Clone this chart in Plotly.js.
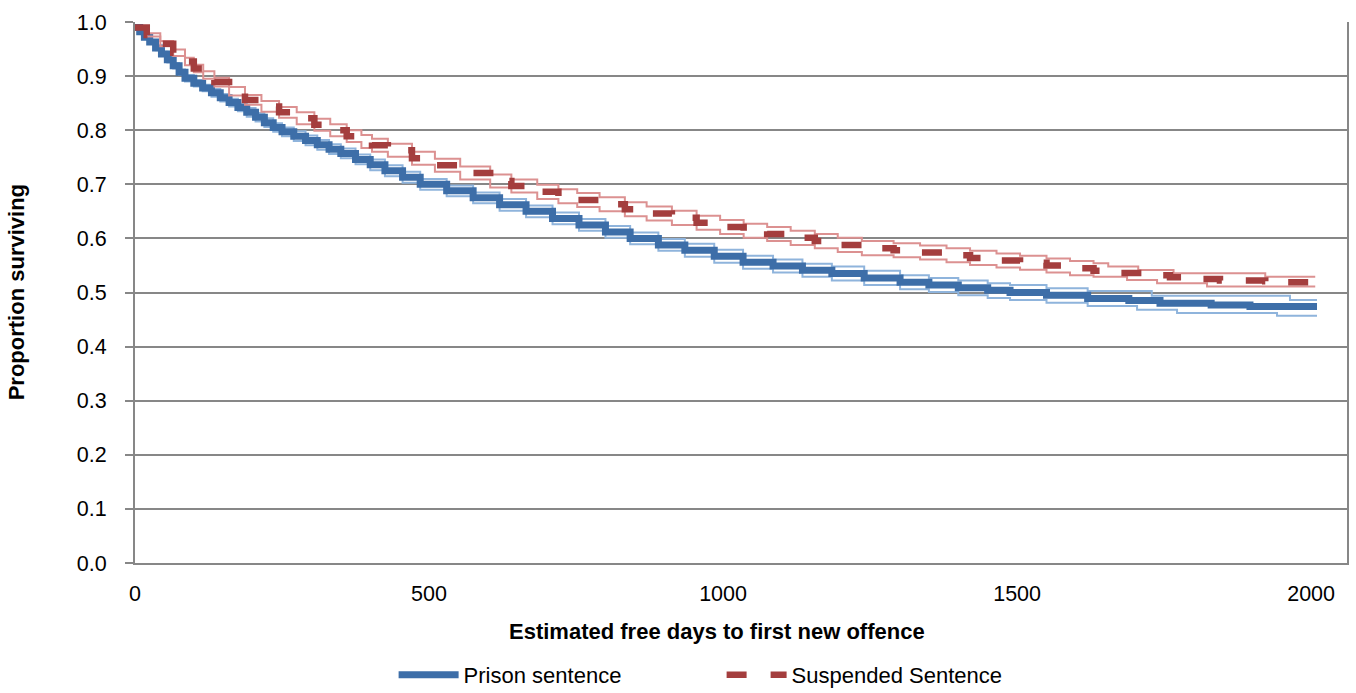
<!DOCTYPE html>
<html><head><meta charset="utf-8">
<script src="https://cdn.plot.ly/plotly-3.0.1.min.js"></script>
<style>html,body{margin:0;padding:0;background:#fff}#chart{width:1356px;height:693px}</style>
</head><body><div id="chart"></div>
<script>
// Prison sentence (Kaplan-Meier estimate)
const prisonDays = [0,8,16,25,35,45,55,65,75,85,100,115,130,145,160,175,190,205,220,235,250,270,290,310,330,350,375,400,425,455,485,530,575,620,665,710,755,800,842,890,935,985,1034,1085,1135,1185,1240,1301,1350,1400,1450,1488,1550,1620,1690,1743,1830,1896,2010];
const prisonSurv = [.99,.982,.972,.963,.952,.941,.930,.919,.907,.896,.887,.878,.869,.860,.851,.842,.833,.824,.814,.805,.797,.789,.781,.773,.765,.757,.746,.736,.725,.713,.700,.688,.675,.662,.650,.637,.625,.612,.600,.588,.578,.567,.556,.549,.541,.535,.527,.519,.514,.509,.504,.500,.495,.489,.485,.480,.477,.474,.474];
const prisonUpperDays = [0,8,16,25,35,45,55,65,75,85,100,115,130,145,160,175,190,205,220,235,250,270,290,310,330,350,375,400,425,455,485,530,575,620,665,710,755,800,842,890,935,985,1034,1085,1135,1185,1240,1301,1350,1400,1450,1488,1550,1620,1690,1729,1964,2010];
const prisonUpper = [.991,.984,.975,.966,.956,.945,.935,.924,.912,.902,.893,.884,.876,.867,.858,.849,.841,.832,.822,.813,.805,.798,.790,.782,.774,.766,.755,.746,.735,.723,.710,.698,.685,.673,.661,.648,.636,.623,.611,.599,.590,.579,.568,.561,.553,.548,.540,.532,.527,.522,.517,.514,.508,.503,.503,.494,.486,.486];
const prisonLowerDays = [0,8,16,25,35,45,55,65,75,85,100,115,130,145,160,175,190,205,220,235,250,270,290,310,330,350,375,400,425,455,485,530,575,620,665,710,755,800,842,890,935,985,1034,1085,1135,1185,1240,1301,1350,1400,1450,1488,1550,1620,1704,1772,1942,2010];
const prisonLower = [.989,.980,.969,.960,.948,.937,.925,.914,.902,.890,.881,.872,.862,.853,.844,.835,.825,.816,.806,.797,.789,.780,.772,.764,.756,.748,.737,.726,.715,.703,.690,.678,.665,.651,.639,.626,.614,.601,.589,.577,.566,.555,.544,.537,.529,.522,.514,.506,.501,.495,.490,.486,.481,.475,.468,.462,.457,.457];

// Suspended sentence (Kaplan-Meier estimate)
const suspDays = [0,20,43,65,85,100,116,135,160,187,215,245,275,305,332,360,385,403,430,471,510,553,604,640,684,720,752,790,833,870,913,955,995,1035,1075,1115,1156,1195,1236,1290,1335,1380,1420,1465,1505,1550,1590,1630,1675,1720,1760,1800,1845,1922,1960,2002];
const suspSurv = [.99,.976,.960,.943,.927,.914,.902,.889,.872,.856,.844,.833,.822,.810,.800,.789,.779,.772,.763,.748,.735,.721,.706,.697,.686,.678,.671,.663,.654,.646,.638,.629,.621,.614,.608,.601,.595,.588,.582,.578,.574,.569,.564,.559,.555,.550,.545,.540,.536,.532,.528,.525,.522,.521,.519,.518];
const suspUpperDays = [0,20,43,65,85,100,116,135,160,187,215,245,275,305,332,360,385,403,430,471,510,553,604,640,684,720,752,790,833,870,913,955,995,1035,1075,1115,1156,1195,1236,1290,1335,1380,1420,1465,1505,1550,1590,1630,1655,1706,1766,1922,2007];
const suspUpper = [.991,.979,.965,.949,.934,.921,.909,.897,.880,.865,.854,.843,.833,.821,.811,.800,.791,.784,.775,.760,.747,.733,.718,.709,.699,.691,.684,.676,.667,.659,.651,.642,.634,.627,.621,.614,.608,.601,.595,.591,.587,.582,.577,.572,.568,.563,.558,.554,.548,.5416,.5355,.5293,.5293];
const suspLowerDays = [0,20,43,65,85,100,116,135,160,187,215,245,275,305,332,360,385,403,430,471,510,553,604,640,684,720,752,790,833,870,913,955,995,1035,1075,1115,1156,1195,1236,1290,1335,1380,1420,1465,1505,1550,1590,1630,1687,1738,1823,2007];
const suspLower = [.989,.973,.955,.937,.920,.907,.895,.881,.864,.847,.834,.823,.811,.799,.789,.778,.767,.760,.751,.736,.723,.709,.694,.685,.673,.665,.658,.650,.641,.633,.625,.616,.608,.601,.595,.588,.582,.575,.569,.565,.561,.556,.551,.546,.542,.537,.532,.529,.523,.517,.511,.511];

const xTickVals = [0,500,1000,1500,2000];
const xTickText = ['0','500','1000','1500','2000'];
const yTickVals = [0,0.1,0.2,0.3,0.4,0.5,0.6,0.7,0.8,0.9,1.0];
const yTickText = ['0.0','0.1','0.2','0.3','0.4','0.5','0.6','0.7','0.8','0.9','1.0'];

const lightBlue = '#8FB4DC', darkBlue = '#3D6EA8', lightRed = '#DC9191', darkRed = '#A43E3E';
const ci = (x, y, c) => ({x, y, type:'scatter', mode:'lines', line:{shape:'hv', color:c, width:2}, showlegend:false, hoverinfo:'skip'});

const traces = [
  ci(prisonUpperDays, prisonUpper, lightBlue),
  ci(prisonLowerDays, prisonLower, lightBlue),
  {x: prisonDays, y: prisonSurv, type:'scatter', mode:'lines', name:'Prison sentence',
   line:{shape:'hv', color:darkBlue, width:7}},
  ci(suspUpperDays, suspUpper, lightRed),
  ci(suspLowerDays, suspLower, lightRed),
  {x: suspDays, y: suspSurv, type:'scatter', mode:'lines', name:'Suspended Sentence',
   line:{shape:'hv', color:darkRed, width:6.5, dash:'20px,24px'}}
];

const gridCol = '#878787';
const layout = {
  width:1356, height:693,
  margin:{l:135, r:9, t:22, b:130, autoexpand:false},
  paper_bgcolor:'#ffffff', plot_bgcolor:'#ffffff',
  font:{family:'"Liberation Sans", Arial, sans-serif', size:21.5, color:'#000'},
  showlegend:true,
  xaxis:{range:[0,2061], tickvals:xTickVals, ticktext:xTickText, showgrid:false, zeroline:false,
         showline:true, linecolor:gridCol, linewidth:2, ticks:'', ticklabelstandoff:10, fixedrange:true,
         automargin:false},
  yaxis:{range:[0,1], tickvals:yTickVals, ticktext:yTickText, showgrid:true, gridcolor:gridCol, gridwidth:2,
         zeroline:false, showline:true, linecolor:gridCol, linewidth:2, mirror:true,
         ticks:'outside', ticklen:8, tickcolor:gridCol, tickwidth:2, ticklabelstandoff:14, fixedrange:true,
         automargin:false},
  legend:{orientation:'h', x:0.484, xanchor:'center', y:-0.168, yanchor:'top', itemwidth:60,
          entrywidth:253, font:{size:22}},
  annotations:[
    {text:'<b>Estimated free days to first new offence</b>', xref:'paper', yref:'paper', x:0.48, y:-0.1275,
     xanchor:'center', yanchor:'middle', showarrow:false, font:{size:22}},
    {text:'<b>Proportion surviving</b>', xref:'paper', yref:'paper', x:-0.0975, y:0.5,
     textangle:-90, xanchor:'center', yanchor:'middle', showarrow:false, font:{size:22}}
  ]
};
Plotly.newPlot('chart', traces, layout, {displayModeBar:false, staticPlot:true});
</script></body></html>
